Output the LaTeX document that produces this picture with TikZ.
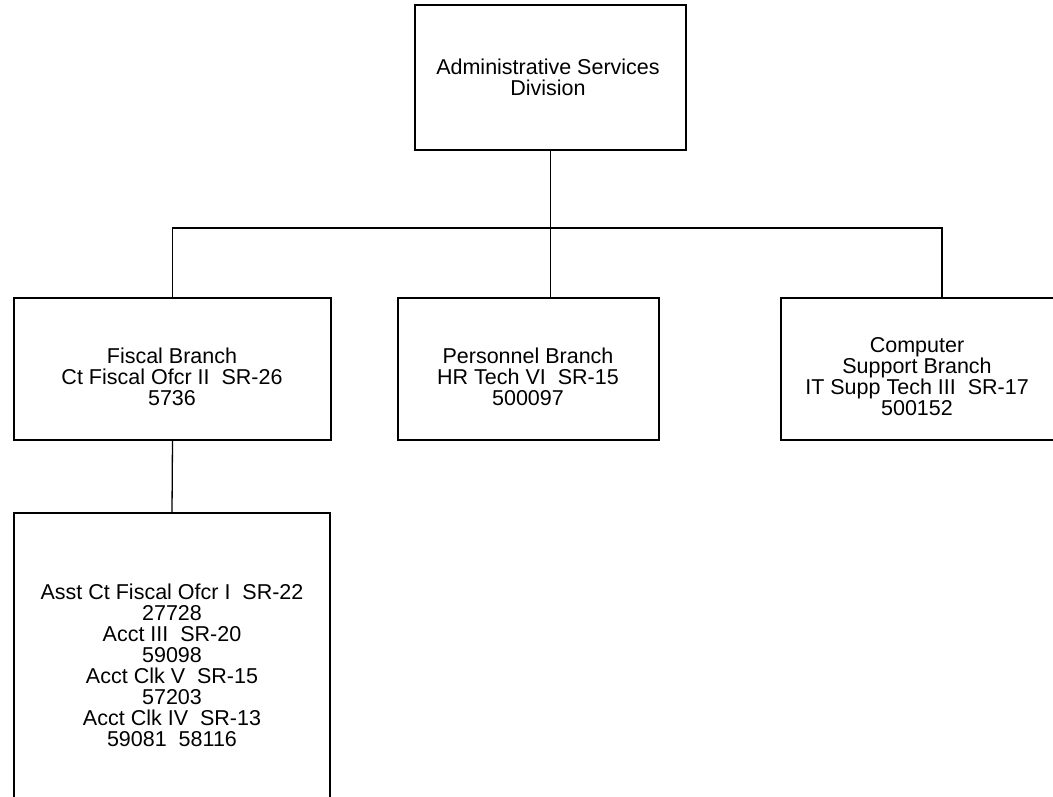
\documentclass[tikz,border=0pt]{standalone}
\usepackage{fontspec}
\setmainfont{Liberation Sans}
\tikzset{
  unit/.style={draw, line width=1.3pt, inner sep=0pt},
  label text/.style={align=center, font=\fontsize{21.5}{21}\selectfont},
  wire/.style={line width=1.3pt}
}
\begin{document}
\begin{tikzpicture}[x=1pt, y=-1pt]
  \useasboundingbox (0,0) rectangle (1053,797);
  \clip (0,0) rectangle (1053,797);
  % boxes
  \node[unit, minimum width=271pt, minimum height=145pt] (asd) at (550.5,77.5) {};
  \node[unit, minimum width=317pt, minimum height=142pt] (fiscal) at (172.5,369) {};
  \node[unit, minimum width=261pt, minimum height=142pt] (personnel) at (528.5,369) {};
  \node[unit, minimum width=322pt, minimum height=142pt] (computer) at (942,369) {};
  \node[unit, minimum width=316pt, minimum height=288pt] (staff) at (172,657) {};
  % texts
  \node[label text] (asdtext) at (548,77) {Administrative Services\\Division};
  \node[label text] (fiscaltext) at (172,377) {Fiscal Branch\\Ct Fiscal Ofcr II\ \ SR-26\\5736};
  \node[label text] (personneltext) at (528,377) {Personnel Branch\\HR Tech VI\ \ SR-15\\500097};
  \node[label text] (computertext) at (917,377) {Computer\\Support Branch\\IT Supp Tech III\ \ SR-17\\500152};
  \node[label text] (stafftext) at (172,665) {Asst Ct Fiscal Ofcr I\ \ SR-22\\27728\\Acct III\ \ SR-20\\59098\\Acct Clk V\ \ SR-15\\57203\\Acct Clk IV\ \ SR-13\\59081\ \ 58116};
  % connectors
  \coordinate (bus) at (550.5,228);
  \draw[wire] (asd.south) -- (bus);
  \draw[wire] (bus) -| (fiscal.north);
  \draw[wire] (bus) -| (computer.north);
  \draw[wire] (bus) -- (bus |- personnel.north);
  \draw[wire] (fiscal.south) -- (staff.north);
\end{tikzpicture}
\end{document}
